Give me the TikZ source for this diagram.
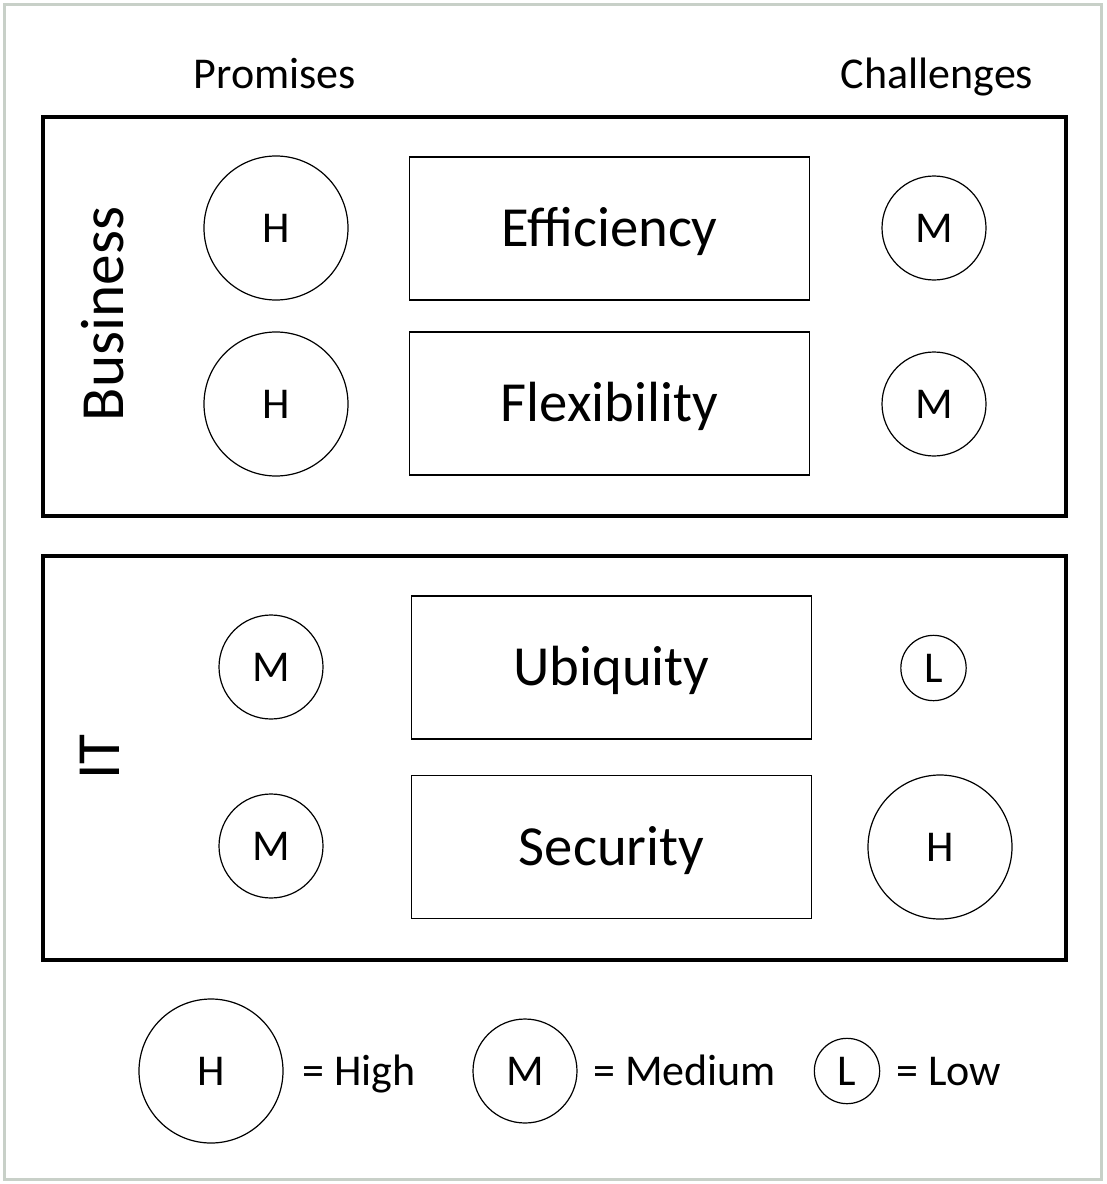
\documentclass[tikz,border=0pt]{standalone}
\usepackage{fontspec}
\setmainfont{Carlito}
\definecolor{framegray}{RGB}{200,208,200}
\begin{document}
\begin{tikzpicture}[x=0.75pt,y=-0.75pt,
  groupbox/.style={draw=black,line width=2.5pt},
  topicbox/.style={draw=black,line width=1.2pt,minimum width=300pt,minimum height=107pt,inner sep=0pt,font=\fontsize{42.5}{50}\selectfont,text height=27.4pt,text depth=0pt},
  rate/.style={draw=black,circle,line width=0.9pt,inner sep=0pt,font=\fontsize{33}{40}\selectfont,text height=21.2pt,text depth=0pt},
  big/.style={rate,minimum size=108pt},
  mid/.style={rate,minimum size=78pt},
  small/.style={rate,minimum size=49pt},
  lbl/.style={font=\fontsize{33}{40}\selectfont,inner sep=0pt,text height=21.2pt,text depth=0pt},
  side/.style={font=\fontsize{46}{55}\selectfont,rotate=90,inner sep=0pt}]
\useasboundingbox (0,0) rectangle (1106,1184);
\draw[framegray,line width=2.2pt] (4.5,4.5) rectangle (1101.5,1179.5);
% headings
\node[lbl] (prom) at (275,74) {Promises};
\node[lbl] (chal) at (937,74) {Challenges};
% group boxes
\draw[groupbox] (43,117) rectangle (1066,516);
\draw[groupbox] (43,556) rectangle (1066,960);
\node[side] (bus) at (103,314) {Business};
\node[side] (it) at (100,757) {IT};
% topics
\node[topicbox] (eff) at (609.5,228.5) {Efficiency};
\node[topicbox] (flex) at (609.5,403.5) {Flexibility};
\node[topicbox] (ubi) at (611.5,667.5) {Ubiquity};
\node[topicbox] (sec) at (611.5,847) {Security};
% ratings
\node[big] (p1) at (276,228) {H};
\node[big] (p2) at (276,404) {H};
\node[mid] (c1) at (934,228) {M};
\node[mid] (c2) at (934,404) {M};
\node[mid] (p3) at (271,667) {M};
\node[mid] (p4) at (271,846) {M};
\node[small] (c3) at (933.5,668) {L};
\node[big] (c4) at (940,847) {H};
% legend
\node[big] (lh) at (211,1071) {H};
\node[lbl,anchor=west] (lht) at (302,1071) {= High};
\node[mid] (lm) at (525,1071) {M};
\node[lbl,anchor=west] (lmt) at (593,1071) {= Medium};
\node[small] (ll) at (847,1071) {L};
\node[lbl,anchor=west] (llt) at (896,1071) {= Low};
\end{tikzpicture}
\end{document}
